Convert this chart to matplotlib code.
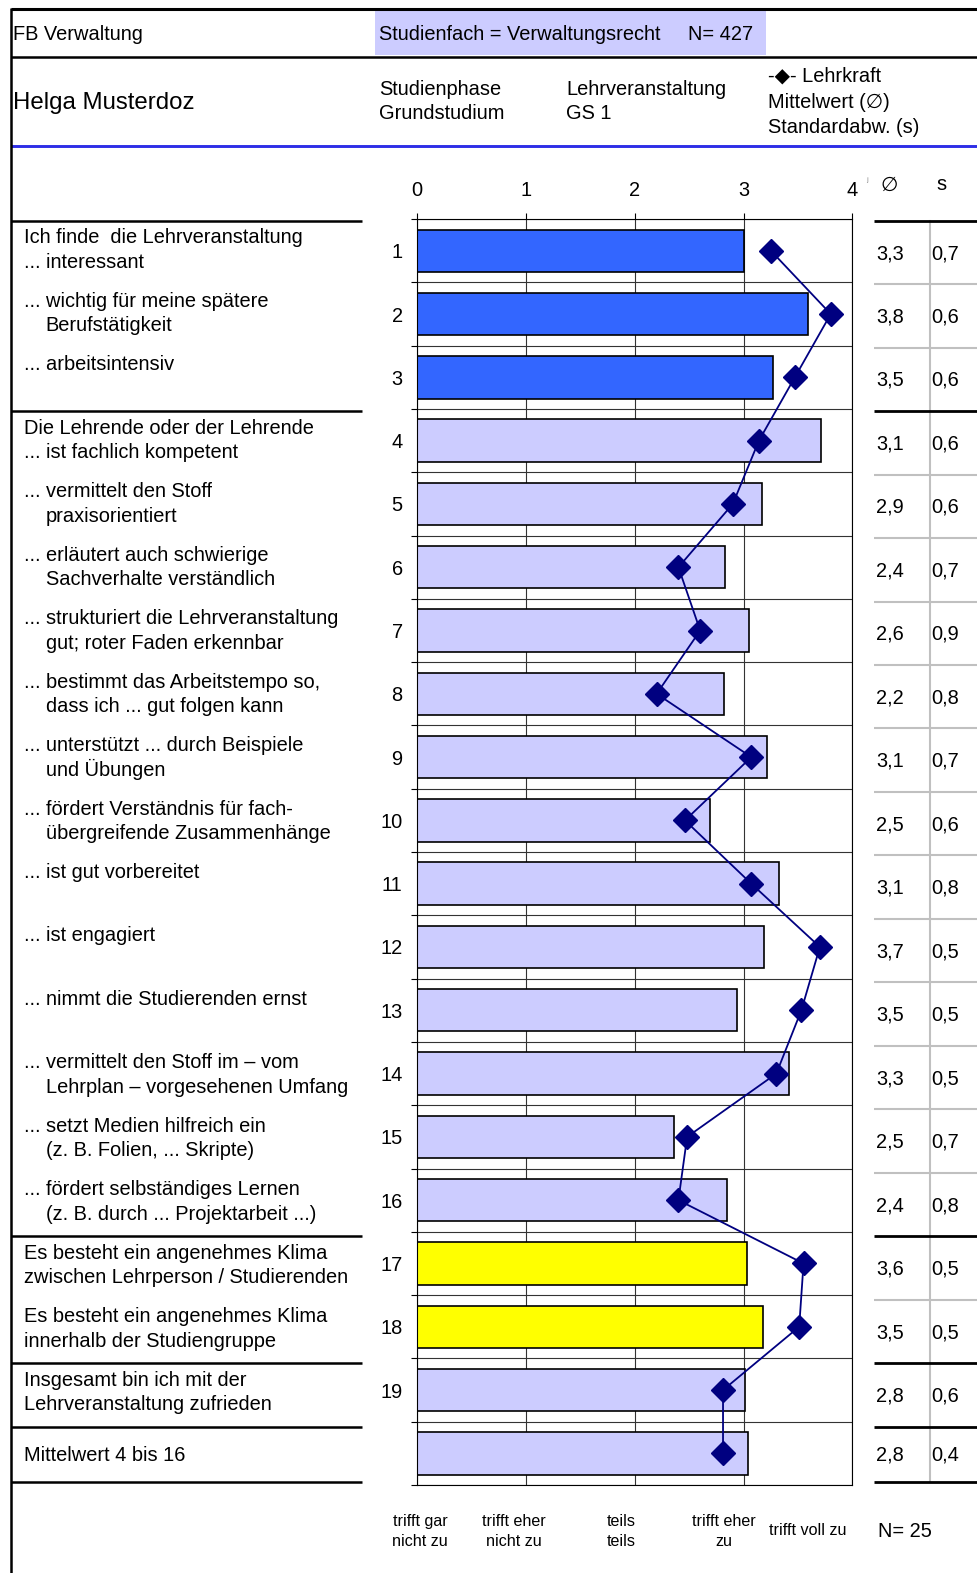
import matplotlib
matplotlib.use('Agg')
import matplotlib.pyplot as plt
import numpy as np

plt.rcParams['font.family'] = ['Liberation Sans', 'DejaVu Sans']

# ---------------- data ----------------
item_numbers = [str(i) for i in range(1, 20)] + ['']
item_labels = [
    ["Ich finde  die Lehrveranstaltung", "... interessant"],
    ["... wichtig für meine spätere", "Berufstätigkeit"],
    ["... arbeitsintensiv"],
    ["Die Lehrende oder der Lehrende", "... ist fachlich kompetent"],
    ["... vermittelt den Stoff", "praxisorientiert"],
    ["... erläutert auch schwierige", "Sachverhalte verständlich"],
    ["... strukturiert die Lehrveranstaltung", "gut; roter Faden erkennbar"],
    ["... bestimmt das Arbeitstempo so,", "dass ich ... gut folgen kann"],
    ["... unterstützt ... durch Beispiele", "und Übungen"],
    ["... fördert Verständnis für fach-", "übergreifende Zusammenhänge"],
    ["... ist gut vorbereitet"],
    ["... ist engagiert"],
    ["... nimmt die Studierenden ernst"],
    ["... vermittelt den Stoff im – vom", "Lehrplan – vorgesehenen Umfang"],
    ["... setzt Medien hilfreich ein", "(z. B. Folien, ... Skripte)"],
    ["... fördert selbständiges Lernen", "(z. B. durch ... Projektarbeit ...)"],
    ["Es besteht ein angenehmes Klima", "zwischen Lehrperson / Studierenden"],
    ["Es besteht ein angenehmes Klima", "innerhalb der Studiengruppe"],
    ["Insgesamt bin ich mit der", "Lehrveranstaltung zufrieden"],
    ["Mittelwert 4 bis 16"],
]
comparison_values = [3.00, 3.59, 3.27, 3.71, 3.17, 2.83, 3.05, 2.82, 3.21, 2.69,
                     3.32, 3.19, 2.94, 3.42, 2.36, 2.85, 3.03, 3.18, 3.01, 3.04]
teacher_values = [3.25, 3.80, 3.47, 3.14, 2.90, 2.40, 2.60, 2.20, 3.07, 2.46,
                  3.07, 3.70, 3.53, 3.30, 2.48, 2.40, 3.55, 3.51, 2.81, 2.81]
mean_labels = ["3,3", "3,8", "3,5", "3,1", "2,9", "2,4", "2,6", "2,2", "3,1", "2,5",
               "3,1", "3,7", "3,5", "3,3", "2,5", "2,4", "3,6", "3,5", "2,8", "2,8"]
sd_labels = ["0,7", "0,6", "0,6", "0,6", "0,6", "0,7", "0,9", "0,8", "0,7", "0,6",
             "0,8", "0,5", "0,5", "0,5", "0,7", "0,8", "0,5", "0,5", "0,6", "0,4"]
row_groups = ["interest"] * 3 + ["teacher"] * 13 + ["climate"] * 2 + ["overall"] * 2
group_colors = {"interest": "#3366FF", "teacher": "#CCCCFF",
                "climate": "#FFFF00", "overall": "#CCCCFF"}
scale_ticks = [0, 1, 2, 3, 4]
scale_tick_labels = ["0", "1", "2", "3", "4"]
scale_words = [["trifft gar", "nicht zu"], ["trifft eher", "nicht zu"],
               ["teils", "teils"], ["trifft eher", "zu"], ["trifft voll zu"]]
group_breaks = [0, 3, 16, 18, 19, 20]

# ---------------- figure ----------------
W, H = 977, 1573
fig = plt.figure(figsize=(W / 100, H / 100), dpi=100)
bg = fig.add_axes([0, 0, 1, 1], zorder=0)
bg.set_xlim(0, W)
bg.set_ylim(H, 0)
bg.axis('off')

FS = 14.4


def txt(x, yc, s, size=FS, **kw):
    bg.text(x, yc + 0.33 * size / 0.72, s, fontsize=size, va='baseline', **kw)


# header
bg.add_patch(plt.Rectangle((375, 10.7), 390.7, 44.5, color='#CCCCFF', lw=0, zorder=0))
bg.plot([11, W], [9, 9], color='black', lw=2.2, solid_capstyle='butt')
bg.plot([11, W], [57.3, 57.3], color='black', lw=1.8, solid_capstyle='butt')
bg.plot([11, W], [145.7, 145.7], color='#2E2EE6', lw=2.1, solid_capstyle='butt')
bg.plot([11, 11], [8, H], color='black', lw=1.8, solid_capstyle='butt')

txt(13, 33, "FB Verwaltung")
txt(379, 33, "Studienfach = Verwaltungsrecht")
txt(688, 33, "N= 427")
txt(13, 101, "Helga Musterdoz", size=17.3)
txt(379, 88, "Studienphase")
txt(379, 112, "Grundstudium")
txt(566, 88, "Lehrveranstaltung")
txt(566, 112, "GS 1")
txt(768, 75, "-◆- Lehrkraft")
txt(768, 101, "Mittelwert (∅)")
txt(768, 126, "Standardabw. (s)")

# table / panel geometry
TT, TH = 220.7, 63.47
bounds = [TT + TH * k for k in range(20)] + [1482.0]

for k, yb in enumerate(bounds):
    if k in group_breaks:
        bg.plot([11, 362], [yb, yb], color='black', lw=1.8, solid_capstyle='butt')
        bg.plot([874, W], [yb, yb], color='black', lw=2.0, solid_capstyle='butt', zorder=3)
    else:
        bg.plot([874, W], [yb, yb], color='#C0C0C0', lw=1.5, solid_capstyle='butt', zorder=2)
bg.plot([930, 930], [bounds[0], bounds[-1]], color='#C0C0C0', lw=1.5, zorder=2)

txt(889, 184, "∅", ha='center')
txt(941, 183, "s", ha='center')
bg.text(867, 182, "ʲ", fontsize=7, color='#777777', ha='center', va='center',
        family=['DejaVu Sans'])

last = len(item_labels) - 1
for i, lines in enumerate(item_labels):
    top = bounds[i]
    if i == last:
        txt(24, (bounds[i] + bounds[i + 1]) / 2, lines[0])
    else:
        for j, line in enumerate(lines):
            x = 45.7 if (j > 0 and lines[0].startswith("...")) else 24
            txt(x, top + 16 + 24.5 * j, line)
    yc = (bounds[i] + bounds[i + 1]) / 2
    txt(876, yc, mean_labels[i])
    txt(931, yc, sd_labels[i])

# scale words under chart
word_x = [420, 513.5, 621, 723.5, 808]
for x, words in zip(word_x, scale_words):
    if len(words) == 2:
        txt(x, 1521, words[0], size=11.6, ha='center')
        txt(x, 1541, words[1], size=11.6, ha='center')
    else:
        txt(x, 1530, words[0], size=11.6, ha='center')
txt(878, 1530, "N= 25")

# ---------------- chart ----------------
X0, X1, Y0, Y1 = 417.3, 852.5, 219.1, 1485.0
ax = fig.add_axes([X0 / W, 1 - Y1 / H, (X1 - X0) / W, (Y1 - Y0) / H], zorder=2)
ax.patch.set_alpha(0)
rows = np.arange(1, len(comparison_values) + 1)
colors = [group_colors[g] for g in row_groups]
ax.barh(rows, comparison_values, height=0.67, color=colors, edgecolor='black',
        linewidth=1.2, zorder=2)
ax.plot(teacher_values, rows, color='#000080', lw=1.3, marker='D', ms=12.5,
        mec='#000080', mfc='#000080', zorder=3, clip_on=False)
ax.set_xlim(0, 4)
ax.set_ylim(len(rows) + 0.5, 0.5)

ax.set_xticks(scale_ticks)
ax.set_xticklabels(scale_tick_labels)
ax.xaxis.tick_top()
ax.tick_params(axis='x', which='major', top=True, bottom=False, labeltop=True,
               labelbottom=False, direction='out', length=4.3, width=0.8,
               pad=9.5, labelsize=FS)
ax.set_yticks(rows)
ax.set_yticklabels(item_numbers)
ax.set_yticks(np.arange(0.5, len(rows) + 1, 1), minor=True)
ax.tick_params(axis='y', which='major', length=0, pad=10.5, labelsize=FS)
ax.tick_params(axis='y', which='minor', length=4.5, width=0.8, direction='out', left=True)
ax.grid(axis='x', which='major', color='#333333', lw=0.8)
ax.grid(axis='y', which='minor', color='#333333', lw=0.8)
ax.set_axisbelow(True)
for sp in ax.spines.values():
    sp.set_linewidth(0.8)

fig.savefig('out.png', dpi=100)
